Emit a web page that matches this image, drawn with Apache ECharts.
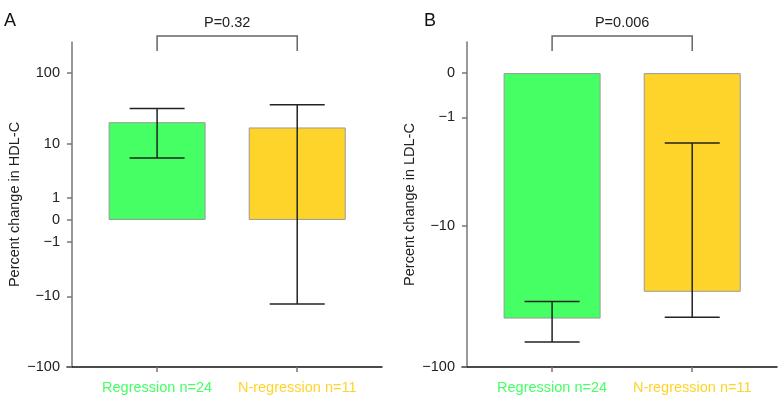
<!DOCTYPE html>
<html>
<head>
<meta charset="utf-8">
<script src="https://cdn.jsdelivr.net/npm/echarts@6/dist/echarts.min.js"></script>
<style>html,body{margin:0;padding:0;background:#fff;}#c{width:779px;height:398px;}</style>
</head>
<body>
<div id="c"></div>
<script>
// ---- data ----
const categories = ['Regression n=24', 'N-regression n=11'];
const barColors = ['#45FF64', '#FFD42A'];
// Panel A: percent change in HDL-C
const hdlMean = [20.5, 17.2];
const hdlLow = [6.0, -13.0];
const hdlHigh = [32.0, 36.0];
const hdlTicks = [100, 10, 1, 0, -1, -10, -100];
const hdlRange = [-100, 265];
const pA = 'P=0.32';
// Panel B: percent change in LDL-C
const ldlMean = [-46.2, -30.0];
const ldlLow = [-67.3, -45.2];
const ldlHigh = [-35.1, -2.0];
const ldlTicks = [0, -1, -10, -100];
const ldlRange = [-100, 0.63];
const pB = 'P=0.006';

// symmetric log transform
const T = v => Math.sign(v) * Math.log10(1 + Math.abs(v));
const FONT = '"Liberation Sans", Arial, Helvetica, sans-serif';
const FS = 14.5;

const chart = echarts.init(document.getElementById('c'), null, {renderer: 'canvas'});

function xAxisDef(gi) {
  return {
    type: 'value', gridIndex: gi, min: 0.357, max: 2.605,
    splitLine: {show: false},
    axisLine: {show: true, onZero: false, lineStyle: {color: '#111', width: 1.5}},
    axisTick: {show: true, customValues: [1, 2], length: 5, lineStyle: {color: '#777', width: 1.5}},
    axisLabel: {
      show: true, customValues: [1, 2], margin: 13,
      formatter: v => { const i = Math.round(v) - 1; return '{c' + i + '|' + categories[i] + '}'; },
      rich: {
        c0: {color: barColors[0], fontSize: FS, fontFamily: FONT},
        c1: {color: barColors[1], fontSize: FS, fontFamily: FONT}
      }
    }
  };
}
function yAxisDef(gi, ticks, range, name) {
  const tv = ticks.map(T);
  return {
    type: 'value', gridIndex: gi, min: T(range[0]), max: T(range[1]),
    offset: -5,
    name: name, nameLocation: 'middle', nameGap: 50,
    nameTextStyle: {fontSize: FS, color: '#222', fontFamily: FONT},
    splitLine: {show: false},
    axisLine: {show: true, onZero: false, lineStyle: {color: '#777', width: 1.5}},
    axisTick: {show: true, customValues: tv, length: 5, lineStyle: {color: '#777', width: 1.5}},
    axisLabel: {
      show: true, customValues: tv, margin: 12, fontSize: FS, color: '#222', fontFamily: FONT,
      formatter: v => {
        const s = v < 0 ? -1 : 1;
        const raw = s * (Math.pow(10, Math.abs(v)) - 1);
        const r = Math.round(raw);
        return r < 0 ? '\u2212' + Math.abs(r) : String(r);
      }
    }
  };
}

function barSeries(gi, means) {
  return {
    type: 'bar', xAxisIndex: gi, yAxisIndex: gi, barWidth: 97,
    data: means.map((v, i) => ({value: [i + 1, T(v)], itemStyle: {color: barColors[i]}})),
    itemStyle: {borderColor: '#999', borderWidth: 1},
    silent: true, animation: false
  };
}
function errSeries(gi, lows, highs) {
  return {
    type: 'custom', xAxisIndex: gi, yAxisIndex: gi, clip: false, silent: true, animation: false, z: 5,
    data: lows.map((l, i) => [i + 1, T(l), T(highs[i])]),
    renderItem: (params, api) => {
      const p1 = api.coord([api.value(0), api.value(1)]);
      const p2 = api.coord([api.value(0), api.value(2)]);
      const hw = 27.5;
      const st = {stroke: '#222', lineWidth: 1.5};
      return {type: 'group', children: [
        {type: 'line', shape: {x1: p1[0], y1: p1[1], x2: p2[0], y2: p2[1]}, style: st},
        {type: 'line', shape: {x1: p1[0] - hw, y1: p1[1], x2: p1[0] + hw, y2: p1[1]}, style: st},
        {type: 'line', shape: {x1: p2[0] - hw, y1: p2[1], x2: p2[0] + hw, y2: p2[1]}, style: st}
      ]};
    }
  };
}
function bracketSeries(gi, ptext) {
  return {
    type: 'custom', xAxisIndex: gi, yAxisIndex: gi, clip: false, silent: true, animation: false, z: 5,
    data: [[1, 2]],
    renderItem: (params, api) => {
      const x1 = api.coord([api.value(0), 0])[0];
      const x2 = api.coord([api.value(1), 0])[0];
      const top = params.coordSys.y;
      return {type: 'group', children: [
        {type: 'polyline', shape: {points: [[x1, top + 9], [x1, top - 6], [x2, top - 6], [x2, top + 9]]},
         style: {stroke: '#666', lineWidth: 1.5, fill: null}},
        {type: 'text', style: {text: ptext, x: (x1 + x2) / 2, y: top - 19, align: 'center', verticalAlign: 'middle',
          fontSize: FS, fontFamily: FONT, fill: '#222'}}
      ]};
    }
  };
}

chart.setOption({
  animation: false,
  backgroundColor: '#fff',
  grid: [
    {left: 67, top: 42, width: 315, height: 325},
    {left: 462, top: 42, width: 315, height: 325}
  ],
  graphic: [
    {type: 'text', left: 4, top: 12, style: {text: 'A', fontSize: 18, fontFamily: FONT, fill: '#111'}},
    {type: 'text', left: 424, top: 12, style: {text: 'B', fontSize: 18, fontFamily: FONT, fill: '#111'}}
  ],
  xAxis: [xAxisDef(0), xAxisDef(1)],
  yAxis: [
    yAxisDef(0, hdlTicks, hdlRange, 'Percent change in HDL-C'),
    yAxisDef(1, ldlTicks, ldlRange, 'Percent change in LDL-C')
  ],
  series: [
    barSeries(0, hdlMean), errSeries(0, hdlLow, hdlHigh), bracketSeries(0, pA),
    barSeries(1, ldlMean), errSeries(1, ldlLow, ldlHigh), bracketSeries(1, pB)
  ]
});
</script>
</body>
</html>
